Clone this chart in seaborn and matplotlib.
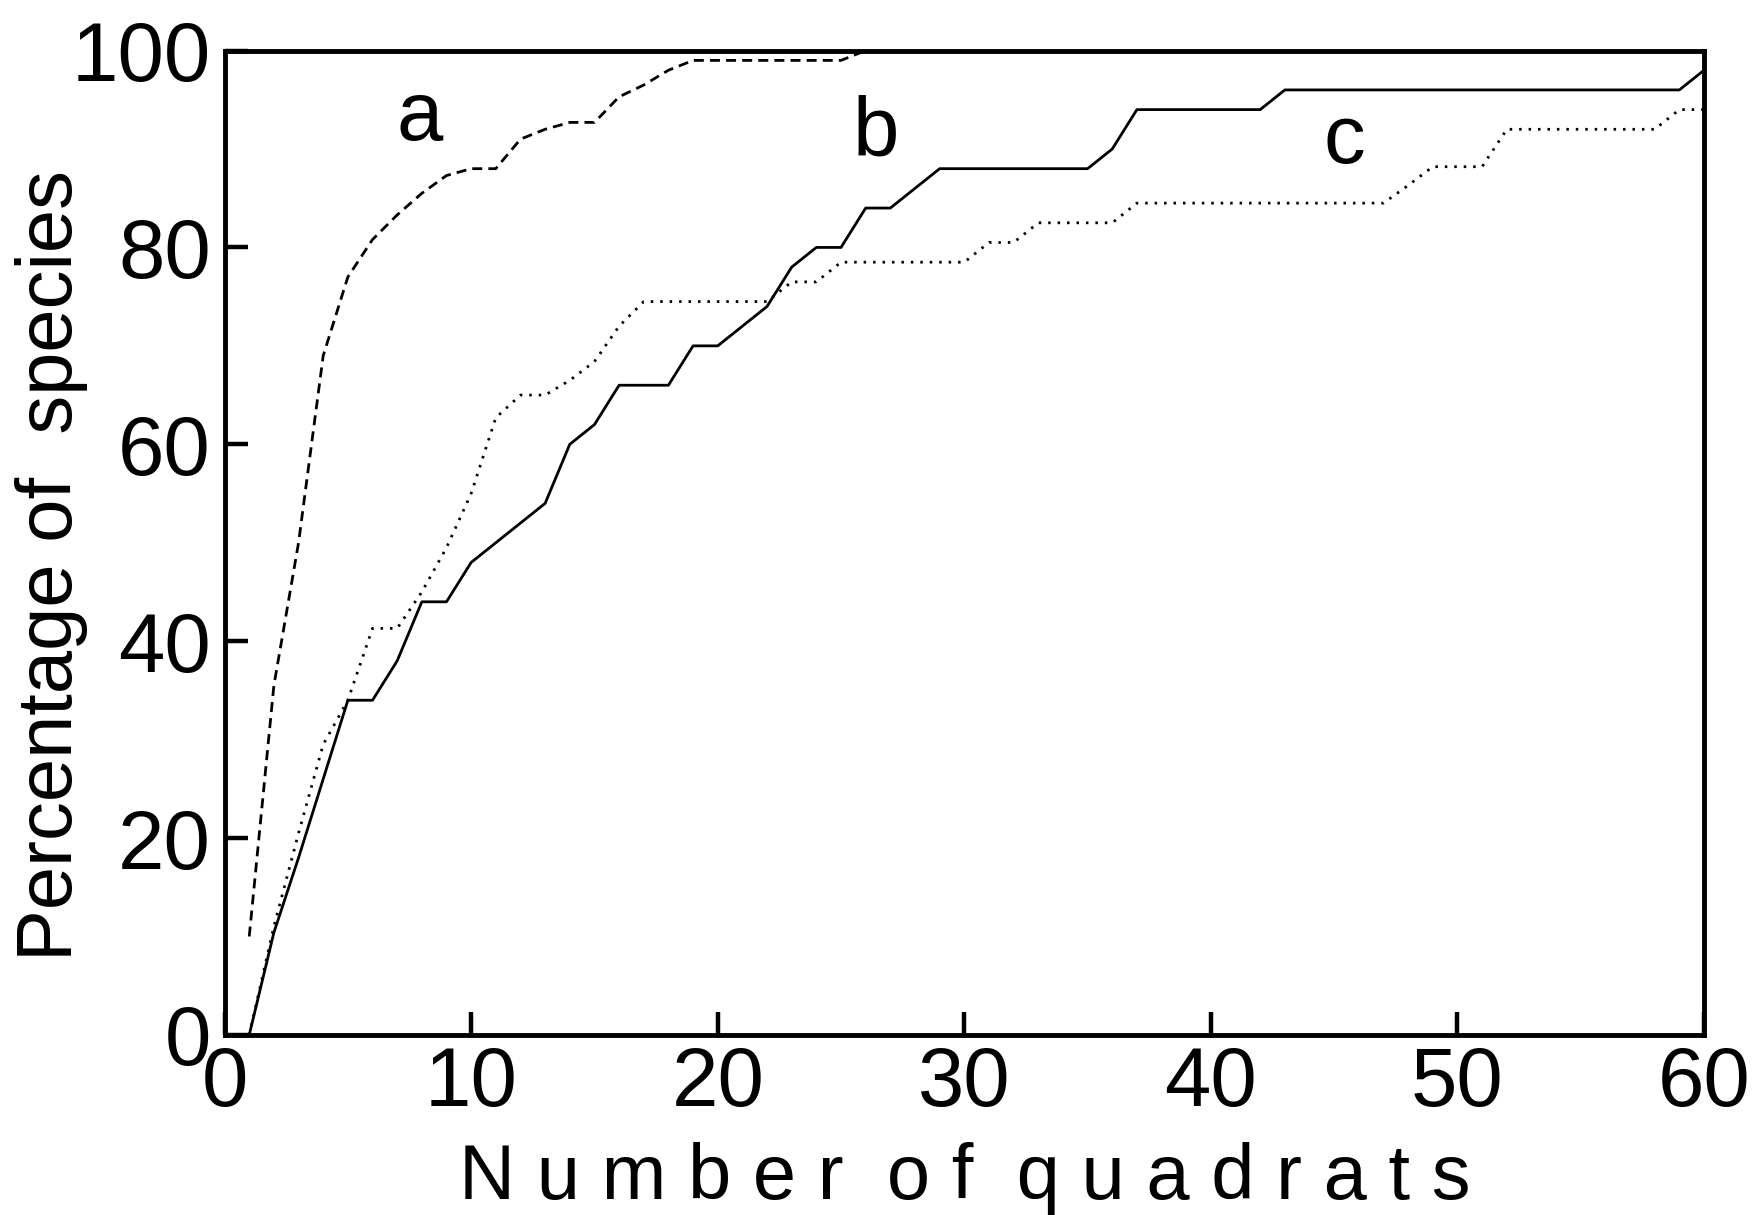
import matplotlib
matplotlib.use("Agg")
import matplotlib.pyplot as plt
import seaborn as sns
import pandas as pd

# ---- data ----
quadrats_a = list(range(1, 27))
pct_a = [10, 35.5, 50, 69, 77, 80.8, 83.3, 85.5, 87.3, 88, 88, 91, 92, 92.7, 92.7,
         95.3, 96.5, 98, 99, 99, 99, 99, 99, 99, 99, 100]

quadrats_b = list(range(1, 61))
pct_b = [0, 10.4, 18, 26, 34, 34, 38, 44, 44, 48, 50, 52, 54, 60, 62, 66, 66, 66, 70, 70,
         72, 74, 78, 80, 80, 84, 84, 86, 88, 88, 88, 88, 88, 88, 88, 90, 94, 94, 94, 94,
         94, 94, 96, 96, 96, 96, 96, 96, 96, 96, 96, 96, 96, 96, 96, 96, 96, 96, 96, 98]

quadrats_c = list(range(1, 61))
pct_c = [0, 11, 20.5, 29.5, 34, 41.3, 41.3, 45, 49.5, 55, 62.7, 65, 65, 66.5, 68.4, 72,
         74.5, 74.5, 74.5, 74.5, 74.5, 74.5, 76.5, 76.5, 78.5, 78.5, 78.5, 78.5, 78.5, 78.5,
         80.5, 80.5, 82.5, 82.5, 82.5, 82.5, 84.5, 84.5, 84.5, 84.5, 84.5, 84.5, 84.5, 84.5,
         84.5, 84.5, 84.5, 86.3, 88.2, 88.2, 88.2, 92, 92, 92, 92, 92, 92, 92, 94, 94]

curve_labels = ["a", "b", "c"]
x_ticks = [0, 10, 20, 30, 40, 50, 60]
y_ticks = [0, 20, 40, 60, 80, 100]
x_title = "N u m b e r  o f  q u a d r a t s"
y_title = "Percentage of  species"

# ---- style ----
sns.set_style("ticks")
plt.rcParams["font.family"] = ["Liberation Sans", "DejaVu Sans"]
plt.rcParams["text.color"] = "black"

fig, ax = plt.subplots(figsize=(17.6, 12.15), dpi=100)
fig.subplots_adjust(left=0.1276, right=0.9682, bottom=0.1482, top=0.9584)

df_a = pd.DataFrame({"q": quadrats_a, "p": pct_a})
df_b = pd.DataFrame({"q": quadrats_b, "p": pct_b})
df_c = pd.DataFrame({"q": quadrats_c, "p": pct_c})

sns.lineplot(data=df_a, x="q", y="p", ax=ax, color="black", linewidth=2.0,
             linestyle=(0, (3.6, 2.2)), errorbar=None, sort=False)
sns.lineplot(data=df_b, x="q", y="p", ax=ax, color="black", linewidth=2.0,
             linestyle="-", errorbar=None, sort=False)
sns.lineplot(data=df_c, x="q", y="p", ax=ax, color="black", linewidth=2.0,
             linestyle=(0, (0.9, 2.5)), errorbar=None, sort=False)

ax.set_xlim(0, 60)
ax.set_ylim(0, 100)
ax.set_xticks(x_ticks)
ax.set_yticks(y_ticks)
ax.set_xticklabels([str(t) for t in x_ticks])
ax.set_yticklabels([str(t) for t in y_ticks])

ax.tick_params(axis="both", direction="in", length=16.5, width=3.2, color="black",
               labelsize=60, labelcolor="black")
ax.tick_params(axis="x", pad=7)
ax.tick_params(axis="y", pad=10)

for s in ax.spines.values():
    s.set_linewidth(3.5)
    s.set_color("black")

ax.set_xlabel(x_title, fontsize=56, color="black")
ax.set_ylabel(y_title, fontsize=56, color="black")
ax.xaxis.set_label_coords(0.5, -0.1087)
ax.yaxis.set_label_coords(-0.0923, 0.4764)

# curve letters
ax.text(7.93, 90.96, curve_labels[0], ha="center", va="baseline", fontsize=60, color="black")
ax.text(26.4, 89.3, curve_labels[1], ha="center", va="baseline", fontsize=60, color="black")
ax.text(45.4, 88.6, curve_labels[2], ha="center", va="baseline", fontsize=60, color="black")

ax.set_facecolor("white")
fig.patch.set_facecolor("white")

fig.savefig("out.png", dpi=100)
